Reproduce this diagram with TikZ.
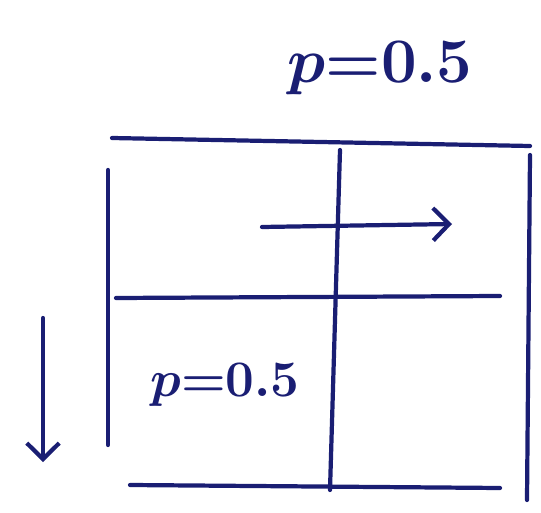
\documentclass[tikz,border=0pt]{standalone}
\usepackage{amsmath,amssymb}
\usepackage{graphicx}
\usepackage{xcolor}
\usetikzlibrary{arrows.meta}
\definecolor{ink}{RGB}{26,30,115}
\tikzset{
    ink/.style={draw=ink, line width=2.4pt, line cap=round},
    inkarrow/.style={ink, -{Straight Barb[length=3.2mm,width=6.5mm,line width=2.4pt]}},
    inktext/.style={text=ink, inner sep=0pt, font=\fontsize{24.88}{26}\selectfont\boldmath}
}

\begin{document}
\begin{tikzpicture}[x=0.02cm, y=-0.02cm]
    \useasboundingbox (0,0) rectangle (541,513);
    % grid corners
    \coordinate (tl) at (112,138);
    \coordinate (tr) at (530,146);
    \coordinate (ml) at (116,298);
    \coordinate (mr) at (500,296);
    \coordinate (bl) at (130,485);
    \coordinate (br) at (500,488);
    \coordinate (vt) at (340,150);
    \coordinate (vb) at (330,490);
    \coordinate (lt) at (108,170);
    \coordinate (lb) at (108,445);
    \coordinate (rt) at (530,155);
    \coordinate (rb) at (527,500);
    % frame and cells
    \draw[ink] (tl) -- (tr);
    \draw[ink] (lt) -- (lb);
    \draw[ink] (rt) -- (rb);
    \draw[ink] (vt) -- (vb);
    \draw[ink] (ml) -- (mr);
    \draw[ink] (bl) -- (br);
    % arrows
    \coordinate (ra) at (262,227);
    \coordinate (rz) at (452,224);
    \draw[inkarrow] (ra) -- (rz);
    \coordinate (da) at (43,318);
    \coordinate (dz) at (43,462);
    \draw[inkarrow] (da) -- (dz);
    % labels
    \node[inktext] (ptop) at (380,68) {\scalebox{1.45}{$p{=}0.5$}};
    \node[inktext] (pcell) at (225,385) {\scalebox{1.17}{$p{=}0.5$}};
\end{tikzpicture}
\end{document}
